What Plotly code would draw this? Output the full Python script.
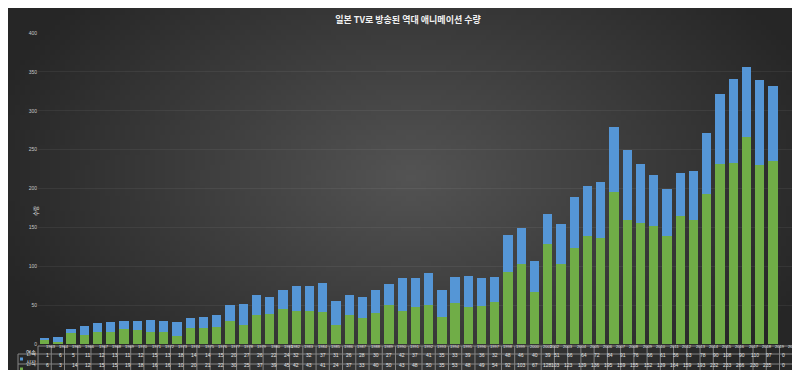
import plotly.graph_objects as go
import base64, zlib, struct, math

years = list(range(1963, 2021))
continuing = [1, 6, 5, 11, 12, 13, 11, 12, 15, 13, 18, 14, 14, 15, 20, 27, 26, 22, 24, 32,
              32, 37, 31, 26, 28, 30, 27, 42, 37, 41, 35, 33, 39, 36, 32, 48, 46, 40, 39, 51,
              66, 64, 72, 84, 91, 76, 66, 61, 56, 63, 78, 90, 108, 90, 110, 97, 0, 0]
new_works = [6, 3, 14, 12, 15, 15, 19, 18, 16, 16, 10, 20, 21, 22, 30, 25, 37, 39, 45, 42,
             43, 41, 24, 37, 33, 40, 50, 43, 48, 50, 35, 53, 48, 49, 54, 92, 103, 67, 128, 103,
             123, 139, 136, 195, 159, 155, 152, 139, 164, 159, 193, 232, 233, 266, 230, 235, 0, 0]
series_names = ["연속", "신작"]
y_ticks = [0, 50, 100, 150, 200, 250, 300, 350, 400]
title = "일본 TV로 방송된 역대 애니메이션 수량"
y_title = "수량"

W, H = 800, 370
ML, MR, MT, MB = 30, 2, 25, 34
PW, PH = W - ML - MR, H - MT - MB

FONT = "Noto Sans CJK KR"
NUMFONT = "Liberation Sans Narrow, Liberation Sans, Arial"
BLUE = "#5596d6"
GREEN = "#70ad47"
LINE = "#858585"
TXT = "#e6e6e6"


def png_gradient(w, h):
    raw = b""
    cx, cy = w / 2, h * 0.45
    maxd = math.hypot(w / 2, h / 2)
    for j in range(h):
        raw += b"\x00"
        for i in range(w):
            d = math.hypot((i - cx), (j - cy) * 1.6) / maxd
            d = min(d, 1.0)
            v = int(84 - 46 * d)
            raw += bytes([v, v, v])
    def chunk(t, data):
        c = struct.pack(">I", len(data)) + t + data
        return c + struct.pack(">I", zlib.crc32(t + data) & 0xffffffff)
    png = b"\x89PNG\r\n\x1a\n" + chunk(b"IHDR", struct.pack(">IIBBBBB", w, h, 8, 2, 0, 0, 0))
    png += chunk(b"IDAT", zlib.compress(raw, 9)) + chunk(b"IEND", b"")
    return "data:image/png;base64," + base64.b64encode(png).decode()


def px(x):
    return (x - ML) / PW


def py(y):
    return (H - MB - y) / PH


def yx(year):
    return (year - 1962.5) / len(years)


fig = go.Figure()
fig.add_trace(go.Bar(x=years, y=new_works, name=series_names[1],
                     marker=dict(color=GREEN, line=dict(width=0))))
fig.add_trace(go.Bar(x=years, y=continuing, name=series_names[0],
                     marker=dict(color=BLUE, line=dict(width=0))))

shapes = []
annotations = []

r0, r1, r2, r3 = 338, 346, 356, 366
left_leg = 10
for yy, x0 in [(r0, ML), (r1, left_leg), (r2, left_leg), (r3, left_leg)]:
    shapes.append(dict(type="line", xref="paper", yref="paper", x0=px(x0), x1=1,
                       y0=py(yy), y1=py(yy), line=dict(color=LINE, width=1)))
for k in range(len(years) + 1):
    shapes.append(dict(type="line", xref="paper", yref="paper", x0=k / len(years),
                       x1=k / len(years), y0=py(r0), y1=py(r3), line=dict(color=LINE, width=1)))
shapes.append(dict(type="line", xref="paper", yref="paper", x0=px(left_leg), x1=px(left_leg),
                   y0=py(r1), y1=py(r3), line=dict(color=LINE, width=1)))

for i, yv in enumerate(years):
    xc = yx(yv)
    annotations.append(dict(x=xc, y=py((r0 + r1) / 2), xref="paper", yref="paper", text=str(yv),
                            showarrow=False, borderpad=0, font=dict(size=4, color=TXT, family=NUMFONT)))
    annotations.append(dict(x=xc, y=py((r1 + r2) / 2), xref="paper", yref="paper", text=str(continuing[i]),
                            showarrow=False, borderpad=0, font=dict(size=5, color=TXT, family=NUMFONT)))
    annotations.append(dict(x=xc, y=py((r2 + r3) / 2), xref="paper", yref="paper", text=str(new_works[i]),
                            showarrow=False, borderpad=0, font=dict(size=5, color=TXT, family=NUMFONT)))

for (yy0, yy1), col, name in [((r1, r2), BLUE, series_names[0]), ((r2, r3), GREEN, series_names[1])]:
    cy = (yy0 + yy1) / 2
    shapes.append(dict(type="rect", xref="paper", yref="paper", x0=px(12), x1=px(15),
                       y0=py(cy + 1.5), y1=py(cy - 1.5), fillcolor=col, line=dict(width=0)))
    annotations.append(dict(x=px(16), y=py(cy), xref="paper", yref="paper", text=name, xanchor="left",
                            showarrow=False, font=dict(size=5.5, color=TXT, family=FONT)))

annotations.append(dict(x=px(22), y=py(203), xref="paper", yref="paper", text=y_title, textangle=-90,
                        showarrow=False, font=dict(size=5.5, color=TXT, family=FONT)))

fig.update_layout(
    width=W, height=H,
    margin=dict(l=ML, r=MR, t=MT, b=MB),
    paper_bgcolor="#3a3a3a",
    plot_bgcolor="rgba(0,0,0,0)",
    barmode="stack",
    bargap=0.3,
    showlegend=False,
    title=dict(text="<b>" + title + "</b>", x=0.5, xanchor="center", y=1 - 12 / H, yanchor="middle",
               font=dict(size=9, color="#f0f0f0", family=FONT)),
    xaxis=dict(range=[1962.5, 2020.5], showticklabels=False, showgrid=False, zeroline=False,
               showline=False, ticks=""),
    yaxis=dict(range=[0, 400], tickvals=y_ticks, showgrid=True, gridcolor="rgba(255,255,255,0.06)",
               gridwidth=0.5, zeroline=False, showline=False,
               tickfont=dict(size=5, color="#c8c8c8", family=NUMFONT), ticklen=0),
    shapes=shapes,
    annotations=annotations,
    images=[dict(source=png_gradient(160, 74), xref="paper", yref="paper", x=px(0), y=py(0),
                 sizex=W / PW, sizey=H / PH, xanchor="left", yanchor="top", sizing="stretch",
                 layer="below")],
)

fig.write_html("out.html")
